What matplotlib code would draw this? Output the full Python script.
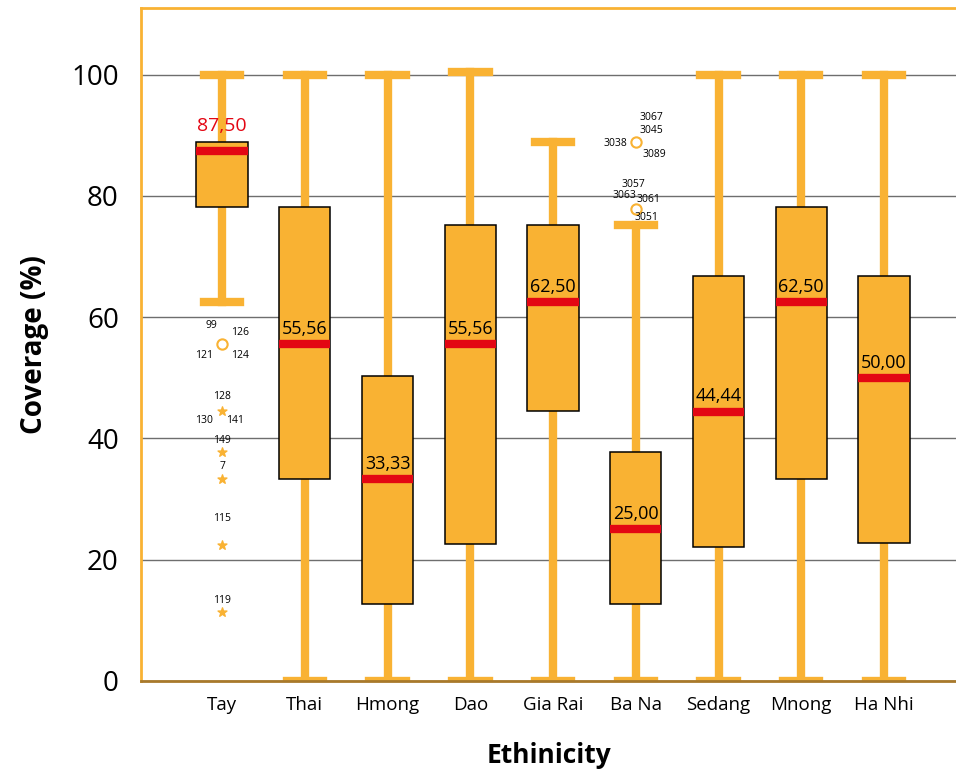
import numpy as np
import matplotlib.pyplot as plt

plt.rcParams['font.family'] = ['Open Sans', 'DejaVu Sans']

ORANGE = '#F9B233'
RED = '#E30613'

# 各民族的箱线图统计量
groups = ['Tay', 'Thai', 'Hmong', 'Dao', 'Gia Rai', 'Ba Na', 'Sedang', 'Mnong', 'Ha Nhi']
whis_lo = [62.5, 0, 0, 0, 0, 0, 0, 0, 0]
q1 = [78.2, 33.3, 12.7, 22.6, 44.5, 12.7, 22.1, 33.3, 22.8]
medians = [87.5, 55.56, 33.33, 55.56, 62.5, 25.0, 44.44, 62.5, 50.0]
q3 = [88.9, 78.2, 50.3, 75.2, 75.2, 37.7, 66.8, 78.2, 66.8]
whis_hi = [100, 100, 100, 100.4, 88.9, 75.2, 100, 100, 100]
median_labels = ['87,50', '55,56', '33,33', '55,56', '62,50', '25,00', '44,44', '62,50', '50,00']

# 离群值（圆圈）与极端值（星号）
circle_group = [1, 6, 6]
circle_value = [55.6, 88.9, 77.8]
circle_ids = [['99', '126', '121', '124'],
              ['3067', '3045', '3038', '3089'],
              ['3057', '3063', '3061', '3051']]
star_group = [1, 1, 1, 1, 1]
star_value = [44.6, 37.8, 33.3, 22.4, 11.4]
star_ids = [['128', '130', '141'], ['149'], ['7'], ['115'], ['119']]

# 标签相对于点的偏移（points）
circle_offsets = [[(-8, 13), (13, 8), (-13, -8), (13, -8)],
                  [(11, 18), (11, 8), (-15, -1), (13, -9)],
                  [(-2, 18), (-8, 10), (9, 7), (8, -6)]]
star_offsets = [[(0, 10), (-13, -7), (9, -7)], [(0, 8)], [(0, 9)], [(0, 19)], [(0, 8)]]

positions = np.arange(1, len(groups) + 1)

fig = plt.figure(figsize=(9.56, 7.72), dpi=100)
ax = fig.add_axes([0.1475, 0.1179, 0.8525, 0.8717])

stats = []
for i in range(len(groups)):
    stats.append(dict(label=groups[i], whislo=whis_lo[i], q1=q1[i], med=medians[i],
                      q3=q3[i], whishi=whis_hi[i], fliers=[]))

ax.bxp(stats, positions=positions, widths=0.62, patch_artist=True, showfliers=False,
       boxprops=dict(facecolor=ORANGE, edgecolor='black', linewidth=1.1),
       medianprops=dict(color=RED, linewidth=6, solid_capstyle='butt'),
       whiskerprops=dict(color=ORANGE, linewidth=6),
       capprops=dict(color=ORANGE, linewidth=6),
       capwidths=0.44, zorder=3)

# 须线放在箱体后面
for line in ax.lines:
    if line.get_color() == ORANGE:
        line.set_zorder(2)

for i, (pos, med, lab) in enumerate(zip(positions, medians, median_labels)):
    if i == 0:
        ax.text(pos, q3[i] + 1.2, lab, ha='center', va='bottom', color=RED, fontsize=14)
    else:
        ax.text(pos, med + 1.0, lab, ha='center', va='bottom', color='black', fontsize=13, zorder=5)

ax.scatter(circle_group, circle_value, s=55, facecolors='white', edgecolors=ORANGE,
           linewidths=1.5, zorder=4)
ax.scatter(star_group, star_value, s=45, marker='*', color=ORANGE, zorder=4)

for g, v, ids, offs in zip(circle_group, circle_value, circle_ids, circle_offsets):
    for t, o in zip(ids, offs):
        ax.annotate(t, (g, v), xytext=o, textcoords='offset points',
                    ha='center', va='center', fontsize=7.5, zorder=6)
for g, v, ids, offs in zip(star_group, star_value, star_ids, star_offsets):
    for t, o in zip(ids, offs):
        ax.annotate(t, (g, v), xytext=o, textcoords='offset points',
                    ha='center', va='center', fontsize=7.5, zorder=6)

ax.set_xlim(0.02, 9.87)
ax.set_ylim(0, 111)
ax.set_yticks([0, 20, 40, 60, 80, 100])
ax.set_xticks(positions)
ax.set_xticklabels(groups, fontsize=13.5)
ax.tick_params(axis='y', labelsize=20, length=0, pad=16)
ax.tick_params(axis='x', length=0, pad=11)
ax.yaxis.grid(True, color='#6e6e6e', linewidth=1)
ax.set_axisbelow(True)

ax.spines['left'].set_color(ORANGE)
ax.spines['left'].set_linewidth(2)
ax.spines['top'].set_color(ORANGE)
ax.spines['top'].set_linewidth(2)
ax.spines['bottom'].set_color('#A8792B')
ax.spines['bottom'].set_linewidth(2)
ax.spines['right'].set_visible(False)

ax.set_ylabel('Coverage (%)', fontsize=20, fontweight='bold', labelpad=16)
ax.set_xlabel('Ethinicity', fontsize=19, fontweight='bold', labelpad=20)

fig.savefig('out.png', dpi=100)
